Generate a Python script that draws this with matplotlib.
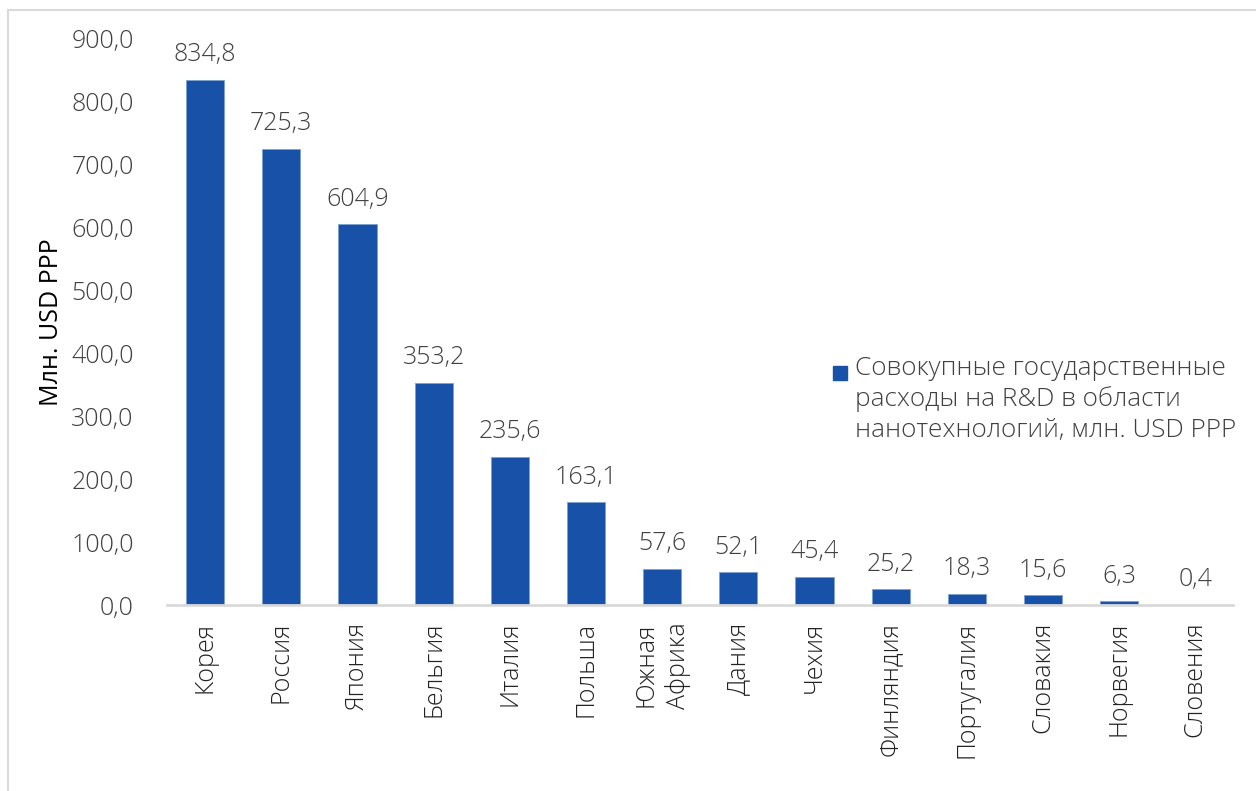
import matplotlib
matplotlib.use("Agg")
import matplotlib.pyplot as plt
import numpy as np
from matplotlib.patches import Rectangle

countries = ["Корея", "Россия", "Япония", "Бельгия", "Италия", "Польша",
             "Южная\nАфрика", "Дания", "Чехия", "Финляндия", "Португалия",
             "Словакия", "Норвегия", "Словения"]
spending = [834.8, 725.3, 604.9, 353.2, 235.6, 163.1, 57.6, 52.1, 45.4,
            25.2, 18.3, 15.6, 6.3, 0.4]
yticks = [0, 100, 200, 300, 400, 500, 600, 700, 800, 900]
series_name = "Совокупные государственные\nрасходы на R&D в области\nнанотехнологий, млн. USD PPP"

BLUE = "#1751a8"
TEXT = "#404040"
FS = 18
W, H = 1256, 791

plt.rcParams['font.family'] = ['Open Sans', 'DejaVu Sans']

fig = plt.figure(figsize=(W / 100, H / 100), dpi=100)
ax = fig.add_axes([0.133, 0.235, 0.849, 0.716])

x = np.arange(len(countries))
ax.bar(x, spending, width=0.5, color=BLUE, edgecolor="#7f9fd0", linewidth=0.6)

for xi, v in zip(x, spending):
    ax.annotate(f"{v:.1f}".replace(".", ","), (xi, v), xytext=(0, 9),
                textcoords="offset points", ha="center", va="bottom",
                fontsize=FS, color=TEXT, fontweight="light")

ax.set_xlim(-0.5, len(countries) - 0.5)
ax.set_ylim(0, 900)
ax.set_yticks(yticks)
ax.set_yticklabels([f"{t:.1f}".replace(".", ",") for t in yticks],
                   fontsize=FS, color=TEXT, fontweight="light")
ax.set_xticks(x)
ax.set_xticklabels(countries, rotation=90, fontsize=FS, color="#222222",
                   fontweight="light", va="top", ha="center", linespacing=1.3)
ax.tick_params(axis="both", length=0)
ax.tick_params(axis="y", pad=24)
ax.tick_params(axis="x", pad=12)

for side in ["top", "right", "left"]:
    ax.spines[side].set_visible(False)
ax.spines["bottom"].set_color("#d9d9d9")
ax.spines["bottom"].set_linewidth(2)

ax.set_ylabel("Млн. USD PPP", fontsize=FS, color="black")
ax.yaxis.set_label_coords(-0.097, 0.5)

# legend: square swatch next to the first line of the series name
fig.add_artist(Rectangle((833 / W, 1 - 380 / H), 14 / W, 14 / H,
                         transform=fig.transFigure, color=BLUE))
fig.text(855 / W, 1 - 356 / H, series_name, ha="left", va="top",
         fontsize=18.8, color=TEXT, fontweight="light", linespacing=1.28)

# light frame around the chart area
fig.add_artist(Rectangle((8 / W, -0.01), 1.2, 1 - 10 / H + 0.01,
                         transform=fig.transFigure, fill=False,
                         edgecolor="#d9d9d9", linewidth=1.5))

fig.savefig("out.png", dpi=100)
